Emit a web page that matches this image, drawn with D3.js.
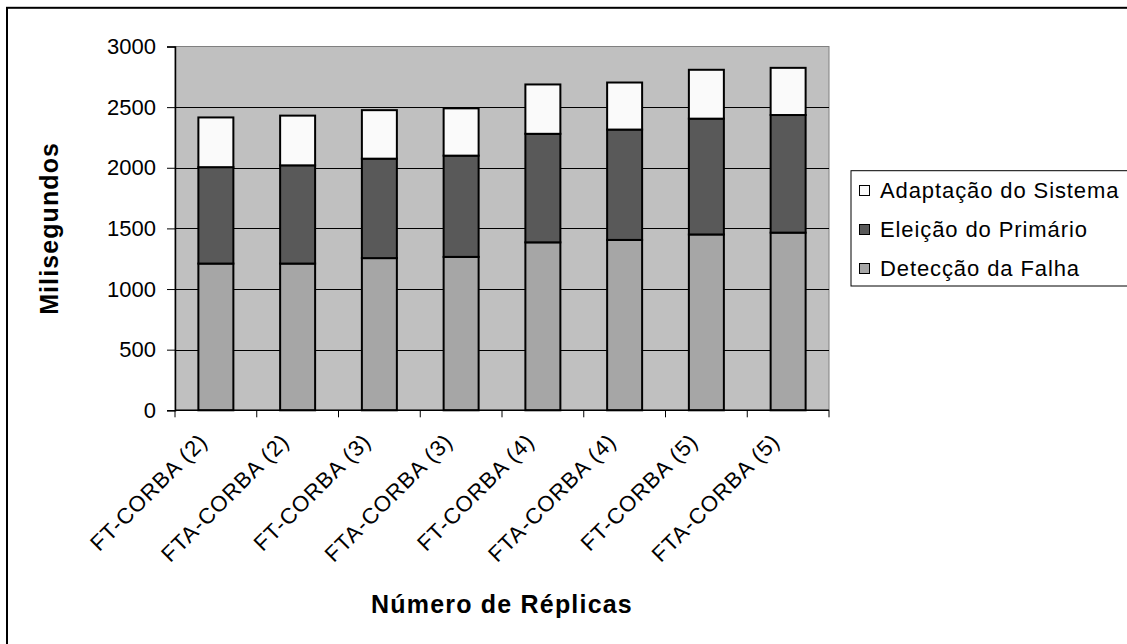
<!DOCTYPE html>
<html>
<head>
<meta charset="utf-8">
<script src="https://cdn.jsdelivr.net/npm/d3@7"></script>
<style>
  html, body { margin: 0; padding: 0; background: #fff; }
  svg { display: block; }
  text { font-family: Arial, "Liberation Sans", sans-serif; fill: #000; }
</style>
</head>
<body>
<svg id="chart" width="1127" height="644"></svg>
<script>
const categories = ["FT-CORBA (2)", "FTA-CORBA (2)", "FT-CORBA (3)", "FTA-CORBA (3)",
                    "FT-CORBA (4)", "FTA-CORBA (4)", "FT-CORBA (5)", "FTA-CORBA (5)"];
const deteccao  = [1210, 1210, 1255, 1265, 1385, 1405, 1450, 1465];
const eleicao   = [795, 810, 820, 835, 895, 910, 955, 970];
const adaptacao = [410, 410, 400, 390, 407, 388, 403, 389];
const seriesNames = ["Detecção da Falha", "Eleição do Primário", "Adaptação do Sistema"];
const yTicks = [0, 500, 1000, 1500, 2000, 2500, 3000];

const colors = ["#a6a6a6", "#595959", "#fafafa"];

const svg = d3.select("#chart");

// outer frame (clipped by viewport on right/bottom)
svg.append("rect").attr("x", 7).attr("y", 7.8).attr("width", 1140).attr("height", 660)
  .attr("fill", "none").attr("stroke", "#000").attr("stroke-width", 2);

const pLeft = 175, pRight = 829, pTop = 46.5, pBottom = 410.3;

const x = d3.scaleBand().domain(categories).range([pLeft, pRight])
  .paddingInner(0.572).paddingOuter(0.286);
const y = d3.scaleLinear().domain([0, 3000]).range([pBottom, pTop]);

// plot background
svg.append("rect").attr("x", pLeft).attr("y", pTop).attr("width", pRight - pLeft).attr("height", pBottom - pTop)
  .attr("fill", "#c0c0c0").attr("stroke", "#808080").attr("stroke-width", 1);

// gridlines
svg.append("g").selectAll("line").data(yTicks.filter(d => d > 0 && d < 3000)).join("line")
  .attr("x1", pLeft).attr("x2", pRight)
  .attr("y1", d => Math.round(y(d)) + 0.5).attr("y2", d => Math.round(y(d)) + 0.5)
  .attr("stroke", "#000").attr("stroke-width", 1);

// stack
const rows = categories.map((c, i) => ({cat: c, s0: deteccao[i], s1: eleicao[i], s2: adaptacao[i]}));
const stack = d3.stack().keys(["s0", "s1", "s2"]);
const layers = stack(rows);

svg.append("g").selectAll("g").data(layers).join("g")
  .attr("fill", (d, i) => colors[i])
  .selectAll("rect").data(d => d).join("rect")
  .attr("x", d => x(d.data.cat))
  .attr("width", x.bandwidth())
  .attr("y", d => y(d[1]))
  .attr("height", d => y(d[0]) - y(d[1]))
  .attr("stroke", "#000").attr("stroke-width", 2);

// y axis
const yAxis = d3.axisLeft(y).tickValues(yTicks).tickSize(8).tickPadding(11).tickFormat(d3.format("d"));
const gy = svg.append("g").attr("transform", `translate(${pLeft},0)`).call(yAxis);
gy.select(".domain").attr("stroke", "#000").attr("stroke-width", 1.5);
gy.selectAll(".tick line").attr("stroke", "#000");
gy.selectAll("text").style("font-size", "22px").style("font-family", "Arial, 'Liberation Sans', sans-serif");

// x axis
const gx = svg.append("g").attr("transform", `translate(0,${pBottom})`);
gx.append("line").attr("x1", pLeft).attr("x2", pRight).attr("y1", 0).attr("y2", 0)
  .attr("stroke", "#000").attr("stroke-width", 1.5);
const boundaries = categories.map(c => x(c) - x.step() * x.paddingInner() / 2).concat([pRight]);
gx.selectAll("line.tk").data(boundaries).join("line").attr("class", "tk")
  .attr("x1", d => d).attr("x2", d => d).attr("y1", 0).attr("y2", 7)
  .attr("stroke", "#000").attr("stroke-width", 1);
gx.selectAll("text").data(categories).join("text")
  .attr("transform", d => `translate(${x(d) + x.bandwidth() / 2 - 12.5},${27}) rotate(-45)`)
  .attr("text-anchor", "end")
  .attr("dy", "0.35em")
  .style("font-size", "22px")
  .style("letter-spacing", "1px")
  .text(d => d);

// axis titles
svg.append("text")
  .attr("transform", `translate(58,${(pTop + pBottom) / 2}) rotate(-90)`)
  .attr("text-anchor", "middle")
  .style("font-size", "25px").style("font-weight", "bold")
  .style("letter-spacing", "1.1px")
  .text("Milisegundos");
svg.append("text")
  .attr("x", (pLeft + pRight) / 2).attr("y", 613)
  .attr("text-anchor", "middle")
  .style("font-size", "25px").style("font-weight", "bold")
  .style("letter-spacing", "1.2px")
  .text("Número de Réplicas");

// legend
const lg = svg.append("g");
lg.append("rect").attr("x", 851).attr("y", 170.7).attr("width", 300).attr("height", 115.3)
  .attr("fill", "#fff").attr("stroke", "#000").attr("stroke-width", 1);
const legendOrder = [2, 1, 0];
const legendY = [190, 229, 268];
legendOrder.forEach((si, k) => {
  lg.append("rect").attr("x", 859.5).attr("y", legendY[k] - 4.5).attr("width", 10).attr("height", 10)
    .attr("fill", colors[si]).attr("stroke", "#000").attr("stroke-width", 1);
  lg.append("text").attr("x", 880).attr("y", legendY[k]).attr("dy", "0.36em")
    .style("font-size", "22px").style("letter-spacing", "0.9px").text(seriesNames[si]);
});
</script>
</body>
</html>
